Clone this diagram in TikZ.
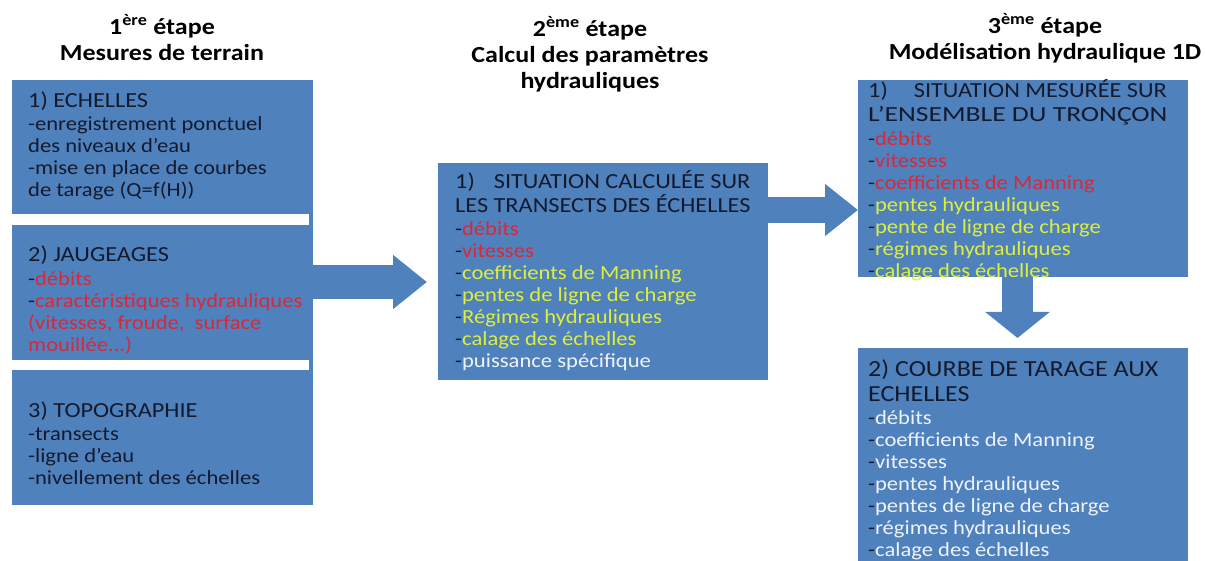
\documentclass[tikz,border=0pt]{standalone}
\usepackage{fontspec}
\setmainfont{Carlito}[FakeStretch=1.13]
\usetikzlibrary{positioning,arrows.meta}
\definecolor{boxblue}{HTML}{4F81BD}
\definecolor{ink}{HTML}{141A2E}
\definecolor{redtxt}{HTML}{D8283C}
\definecolor{yeltxt}{HTML}{DDEE3C}
\definecolor{whitetxt}{HTML}{EEF2FA}
% list items: dark hyphen, coloured word
\newcommand{\rditem}[1]{-\textcolor{redtxt}{#1}}
\newcommand{\ylitem}[1]{-\textcolor{yeltxt}{#1}}
\newcommand{\whitem}[1]{-\textcolor{whitetxt}{#1}}
\newcommand{\boxtitle}[1]{{\fontsize{21.5}{24}\selectfont #1}}
\newcommand{\bigtitle}[1]{{\fontsize{23}{24}\selectfont #1}}
\tikzset{
  stagebox/.style={fill=boxblue, inner sep=0, anchor=north west},
  boxtext/.style={inner sep=0, align=left, text=ink, font=\fontsize{20}{22}\selectfont},
  stagehead/.style={inner sep=0, align=center, text=black, font=\bfseries\fontsize{23}{26}\selectfont},
  bigarrow/.style={draw=boxblue, line cap=butt}
}
\begin{document}
\begin{tikzpicture}[x=1pt,y=-1pt]
\useasboundingbox (0,0) rectangle (1205,561);
% headings
\node[stagehead] (head1) at (162,38) {1\textsuperscript{ère} étape\\Mesures de terrain};
\node[stagehead] (head2) at (590,54) {2\textsuperscript{ème} étape\\Calcul des paramètres\\hydrauliques};
\node[stagehead] (head3) at (1045,38) {3\textsuperscript{ème} étape\\Modélisation hydraulique 1D};
% 1st stage
\node[stagebox, minimum width=301pt, minimum height=134pt] (echelles) at (12,80) {};
\node[stagebox, minimum width=301pt, minimum height=135pt] (jaugeages) at (12,225) {};
\node[stagebox, minimum width=301pt, minimum height=135pt] (topo) at (12,370) {};
\fill[boxblue] (309,214) rectangle (313,225);
\fill[boxblue] (309,360) rectangle (313,370);
\node[boxtext, below right=12pt and 16pt of echelles.north west] (echelles txt)
  {\boxtitle{1) ECHELLES}\\[1pt]
   -enregistrement ponctuel\\des niveaux d’eau\\-mise en place de courbes\\de tarage (Q=f(H))};
\node[boxtext, below right=21pt and 16pt of jaugeages.north west] (jaugeages txt)
  {\boxtitle{2) JAUGEAGES}\\[2pt]
   \rditem{débits}\\\rditem{caractéristiques hydrauliques}\\
   \textcolor{redtxt}{(vitesses, froude,\ \ surface}\\\textcolor{redtxt}{mouillée...)}};
\node[boxtext, below right=32pt and 16pt of topo.north west] (topo txt)
  {\boxtitle{3) TOPOGRAPHIE}\\[1pt]
   -transects\\-ligne d’eau\\-nivellement des échelles};
% 2nd stage
\node[stagebox, minimum width=330pt, minimum height=217pt] (calcul) at (438,163) {};
\node[boxtext, below right=7pt and 17pt of calcul.north west] (calcul txt)
  {\boxtitle{1)\hspace{19pt}SITUATION CALCULÉE SUR}\\[2pt]
   \boxtitle{LES TRANSECTS DES ÉCHELLES}\\[1pt]
   \rditem{débits}\\\rditem{vitesses}\\\ylitem{coefficients de Manning}\\
   \ylitem{pentes de ligne de charge}\\\ylitem{Régimes hydrauliques}\\
   \ylitem{calage des échelles}\\\whitem{puissance spécifique}};
% 3rd stage
\node[stagebox, minimum width=330pt, minimum height=197pt] (mesuree) at (858,80) {};
\node[boxtext, below right=-1pt and 10pt of mesuree.north west] (mesuree txt)
  {\boxtitle{1)\hspace{26pt}SITUATION MESURÉE SUR}\\[2pt]
   \boxtitle{\scalebox{1.135}[1]{L’ENSEMBLE DU TRONÇON}}\\[2pt]
   \rditem{débits}\\\rditem{vitesses}\\\rditem{coefficients de Manning}\\
   \ylitem{pentes hydrauliques}\\\ylitem{pente de ligne de charge}\\
   \ylitem{régimes hydrauliques}\\\ylitem{calage des échelles}};
\node[stagebox, minimum width=330pt, minimum height=213pt] (tarage) at (858,348) {};
\node[boxtext, below right=11pt and 10pt of tarage.north west] (tarage txt)
  {\bigtitle{2) COURBE DE TARAGE AUX}\\[3pt]
   \bigtitle{ECHELLES}\\[1pt]
   \whitem{débits}\\\whitem{coefficients de Manning}\\\whitem{vitesses}\\
   \whitem{pentes hydrauliques}\\\whitem{pentes de ligne de charge}\\
   \whitem{régimes hydrauliques}\\\whitem{calage des échelles}};
% arrows
\coordinate (arrow1) at (0,282);
\coordinate (arrow2) at (0,210);
\coordinate (arrow3) at (1017.5,0);
\draw[bigarrow, line width=34pt, -{Triangle[length=34pt,width=52pt]}, shorten >=11pt]
  (jaugeages.east |- arrow1) -- (calcul.west |- arrow1);
\draw[bigarrow, line width=26pt, -{Triangle[length=33pt,width=50pt]}]
  (calcul.east |- arrow2) -- (mesuree.west |- arrow2);
\draw[bigarrow, line width=31pt, -{Triangle[length=26pt,width=63pt]}, shorten >=10pt]
  (arrow3 |- mesuree.south) -- (arrow3 |- tarage.north);
\end{tikzpicture}
\end{document}
